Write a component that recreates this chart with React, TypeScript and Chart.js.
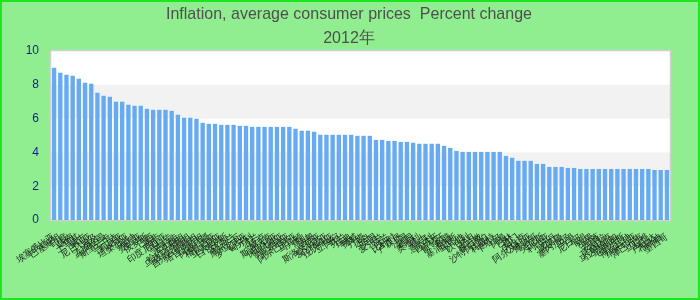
import React, { useEffect, useRef } from "react";
import { Chart, registerables } from "chart.js";

Chart.register(...registerables);

const titleLines = ["Inflation, average consumer prices  Percent change", "2012年"];

const countries = [
  "埃塞俄比亚", "巴基斯坦", "印度", "越南", "土耳其", "蒙古", "尼日利亚", "埃及", "孟加拉国", "斯里兰卡",
  "乌干达", "肯尼亚", "坦桑尼亚", "加纳", "赞比亚", "俄罗斯", "巴西", "南非", "印度尼西亚", "乌拉圭",
  "巴拉圭", "哈萨克斯坦", "乌兹别克斯坦", "吉尔吉斯斯坦", "塔吉克斯坦", "阿塞拜疆", "格鲁吉亚", "亚美尼亚", "白俄罗斯", "乌克兰",
  "摩尔多瓦", "罗马尼亚", "匈牙利", "波兰", "捷克", "斯洛伐克", "保加利亚", "塞尔维亚", "克罗地亚", "阿尔巴尼亚",
  "马其顿", "黑山", "波黑", "斯洛文尼亚", "爱沙尼亚", "拉脱维亚", "立陶宛", "芬兰", "瑞典", "挪威",
  "丹麦", "冰岛", "英国", "爱尔兰", "荷兰", "比利时", "卢森堡", "法国", "德国", "奥地利",
  "瑞士", "意大利", "西班牙", "葡萄牙", "希腊", "塞浦路斯", "马耳他", "以色列", "约旦", "黎巴嫩",
  "沙特阿拉伯", "科威特", "卡塔尔", "阿曼", "巴林", "也门", "伊拉克", "阿尔及利亚", "摩洛哥", "突尼斯",
  "利比亚", "苏丹", "喀麦隆", "塞内加尔", "马里", "尼日尔", "乍得", "刚果", "加蓬", "安哥拉",
  "莫桑比克", "马达加斯加", "毛里求斯", "博茨瓦纳", "纳米比亚", "津巴布韦", "马拉维", "卢旺达", "布隆迪", "墨西哥",
];

const inflation = [
  9.01, 8.72, 8.6, 8.54, 8.36, 8.12, 8.06, 7.53, 7.35, 7.29,
  7.0, 7.0, 6.82, 6.76, 6.76, 6.58, 6.52, 6.52, 6.52, 6.46,
  6.23, 6.05, 6.05, 5.99, 5.75, 5.69, 5.69, 5.63, 5.63, 5.63,
  5.57, 5.57, 5.51, 5.51, 5.51, 5.51, 5.51, 5.51, 5.51, 5.4,
  5.28, 5.28, 5.22, 5.04, 5.04, 5.04, 5.04, 5.04, 5.04, 4.98,
  4.98, 4.98, 4.74, 4.74, 4.68, 4.68, 4.62, 4.62, 4.57, 4.51,
  4.51, 4.51, 4.51, 4.39, 4.27, 4.09, 4.03, 4.03, 4.03, 4.03,
  4.03, 4.03, 4.03, 3.79, 3.68, 3.5, 3.5, 3.5, 3.32, 3.32,
  3.14, 3.14, 3.14, 3.08, 3.08, 3.02, 3.02, 3.02, 3.02, 3.02,
  3.02, 3.02, 3.02, 3.02, 3.02, 3.02, 3.02, 2.96, 2.96, 2.96,
];

const yMin = 0;
const yMax = 10;
const yStep = 2;
const shadedBands: [number, number][] = [
  [2, 4],
  [6, 8],
];

const backgroundPlugin = {
  id: "bgPlugin",
  beforeDraw(chart: any) {
    const { ctx, width, height } = chart;
    ctx.save();
    ctx.fillStyle = "#90ee90";
    ctx.fillRect(0, 0, width, height);
    ctx.strokeStyle = "#1ee61e";
    ctx.lineWidth = 2;
    ctx.strokeRect(1, 1, width - 2, height - 2);
    ctx.restore();
  },
  beforeDatasetsDraw(chart: any) {
    const { ctx, chartArea } = chart;
    const y = chart.scales.y;
    ctx.save();
    ctx.fillStyle = "#ffffff";
    ctx.fillRect(chartArea.left, chartArea.top, chartArea.right - chartArea.left, chartArea.bottom - chartArea.top);
    ctx.fillStyle = "#f2f2f2";
    for (const [a, b] of shadedBands) {
      const p1 = y.getPixelForValue(b);
      const p2 = y.getPixelForValue(a);
      ctx.fillRect(chartArea.left, p1, chartArea.right - chartArea.left, p2 - p1);
    }
    ctx.strokeStyle = "#d0d0d0";
    ctx.lineWidth = 1.5;
    ctx.strokeRect(chartArea.left - 0.5, chartArea.top - 0.5, chartArea.right - chartArea.left + 1, chartArea.bottom - chartArea.top + 1);
    ctx.restore();
  },
  afterDraw(chart: any) {
    const { ctx } = chart;
    ctx.save();
    ctx.fillStyle = "#4f4f4f";
    ctx.textAlign = "center";
    ctx.textBaseline = "alphabetic";
    ctx.font = '17px "Liberation Sans Narrow", "Liberation Sans", sans-serif';
    const w = ctx.measureText(titleLines[0]).width;
    const sx = 366 / w;
    const cx = 349;
    ctx.translate(cx, 0);
    ctx.scale(sx, 1);
    ctx.fillText(titleLines[0], 0, 19);
    ctx.fillText(titleLines[1], 0, 43);
    ctx.restore();
  },
};

export default function App() {
  const ref = useRef<HTMLCanvasElement>(null);
  useEffect(() => {
    document.body.style.margin = "0";
    const canvas = ref.current!;
    const chart = new Chart(canvas, {
      type: "bar",
      data: {
        labels: countries,
        datasets: [
          {
            data: inflation,
            backgroundColor: "#66aaf2",
            borderWidth: 0,
            categoryPercentage: 1,
            barPercentage: 0.7,
          },
        ],
      },
      options: {
        responsive: false,
        animation: false,
        layout: { padding: { left: 0, top: 51, right: 30, bottom: 0 } },
        plugins: {
          legend: { display: false },
          title: { display: false },
          tooltip: { enabled: false },
        },
        scales: {
          x: {
            grid: { display: false, drawTicks: false },
            border: { display: false },
            ticks: {
              autoSkip: false,
              minRotation: 35,
              maxRotation: 35,
              padding: 11,
              color: "#1a1a1a",
              font: { size: 9, family: '"Liberation Sans", sans-serif' },
            },
            afterFit(scale: any) {
              scale.height = 80;
            },
          },
          y: {
            min: yMin,
            max: yMax,
            grid: { display: false, drawTicks: false },
            border: { display: false },
            ticks: {
              stepSize: yStep,
              padding: 12,
              color: "#1a1a9a",
              font: { size: 12, family: '"Liberation Sans", sans-serif' },
            },
            afterFit(scale: any) {
              scale.width = 51;
            },
          },
        },
      },
      plugins: [backgroundPlugin],
    });
    return () => chart.destroy();
  }, []);
  return <canvas ref={ref} width={700} height={300} style={{ display: "block" }} />;
}
